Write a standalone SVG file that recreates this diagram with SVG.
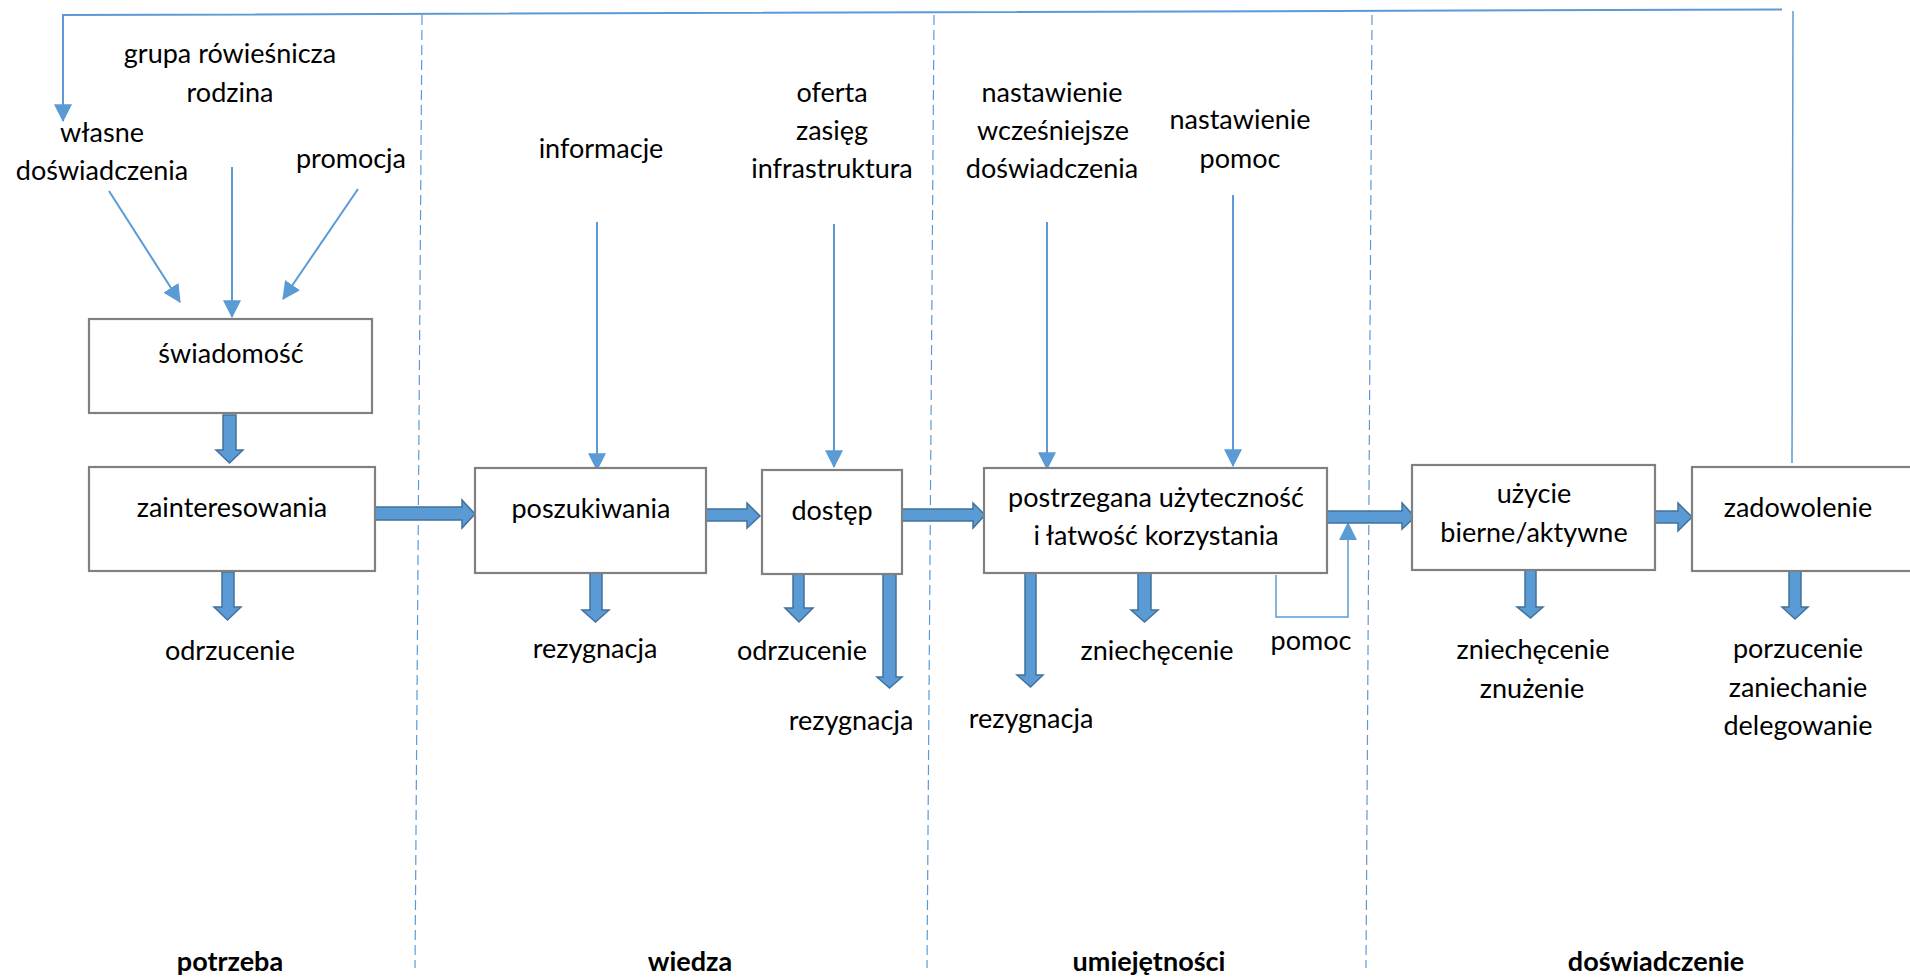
<svg xmlns="http://www.w3.org/2000/svg" width="1910" height="977" viewBox="0 0 1910 977">
<style>
text{font-family:Lato,"Liberation Sans",sans-serif;font-size:27px;fill:#000;text-anchor:middle}
.b{font-weight:bold}
.box{fill:#fff;stroke:#808080;stroke-width:2.2}
.blk{fill:#5B9BD5;stroke:#41719C;stroke-width:1.5;stroke-linejoin:miter}
.thin{fill:none;stroke:#5B9BD5;stroke-width:2}
.fine{fill:none;stroke:#5B9BD5;stroke-width:1.5}
.dash{fill:none;stroke:#5B9BD5;stroke-width:1.2;stroke-dasharray:10 5}
</style>
<defs>
<marker id="ah" markerUnits="userSpaceOnUse" markerWidth="18" markerHeight="18" viewBox="0 0 16 16" refX="15" refY="8" orient="auto">
<path d="M0,0 L16,8 L0,16 Z" fill="#5B9BD5"/>
</marker>
</defs>
<rect width="1910" height="977" fill="#fff"/>
<g id="phases">
<line class="dash" x1="422" y1="15" x2="415" y2="968"/>
<line class="dash" x1="934" y1="15" x2="927" y2="968"/>
<line class="dash" x1="1372" y1="15" x2="1366" y2="968"/>
<text class="b" x="230" y="971">potrzeba</text>
<text class="b" x="690" y="971">wiedza</text>
<text class="b" x="1149" y="971">umiejętności</text>
<text class="b" x="1656" y="971">doświadczenie</text>
</g>
<g id="connectors">
<path class="thin" d="M1782,9.5 L63,15 L63,121" marker-end="url(#ah)"/>
<line class="fine" x1="1793" y1="11" x2="1792" y2="463"/>
<line class="thin" x1="109" y1="191" x2="180" y2="302" marker-end="url(#ah)"/>
<line class="thin" x1="232" y1="167" x2="232" y2="317" marker-end="url(#ah)"/>
<line class="thin" x1="358" y1="189" x2="283" y2="299" marker-end="url(#ah)"/>
<line class="thin" x1="597" y1="222" x2="597" y2="470" marker-end="url(#ah)"/>
<line class="thin" x1="834" y1="224" x2="834" y2="467" marker-end="url(#ah)"/>
<line class="thin" x1="1047" y1="222" x2="1047" y2="469" marker-end="url(#ah)"/>
<line class="thin" x1="1233" y1="195" x2="1233" y2="466" marker-end="url(#ah)"/>
<path class="fine" d="M1276,575 L1276,617 L1348,617 L1348,523" marker-end="url(#ah)"/>
<!-- block arrows down -->
<polygon class="blk" points="223,415 236,415 236,450 243,450 229.5,463 216,450 223,450"/>
<polygon class="blk" points="222,572 234,572 234,607 241,607 227.5,620 214,607 222,607"/>
<polygon class="blk" points="590,573 602,573 602,610 609,610 595.5,622 582,610 590,610"/>
<polygon class="blk" points="793,574 804,574 804,608 813,608 799,622 785,608 793,608"/>
<polygon class="blk" points="883,574 896,574 896,677 902,677 889.5,688 877,677 883,677"/>
<polygon class="blk" points="1025,573 1036,573 1036,675 1043,675 1030.5,687 1017,675 1025,675"/>
<polygon class="blk" points="1138,573 1151,573 1151,610 1158,610 1144.5,622 1131,610 1138,610"/>
<polygon class="blk" points="1525,570 1536,570 1536,607 1543,607 1530.5,618 1517,607 1525,607"/>
<polygon class="blk" points="1789,571 1801,571 1801,607 1808,607 1795,619 1782,607 1789,607"/>
<!-- block arrows right -->
<polygon class="blk" points="375,507 462,507 462,500 475,514 462,528 462,520 375,520"/>
<polygon class="blk" points="706,509 747,509 747,503 760,516 747,528 747,521 706,521"/>
<polygon class="blk" points="902,509 973,509 973,503 985,515 973,528 973,521 902,521"/>
<polygon class="blk" points="1327,511 1402,511 1402,503 1415,517 1402,529 1402,523 1327,523"/>
<polygon class="blk" points="1655,511 1678,511 1678,503 1692,517 1678,531 1678,523 1655,523"/>
</g>
<g id="inputs">
<text x="230" y="63">grupa rówieśnicza</text>
<text x="230" y="102">rodzina</text>
<text x="102" y="142">własne</text>
<text x="102" y="180">doświadczenia</text>
<text x="351" y="168">promocja</text>
<text x="601" y="158">informacje</text>
<text x="832" y="102">oferta</text>
<text x="832" y="140">zasięg</text>
<text x="832" y="178">infrastruktura</text>
<text x="1052" y="102">nastawienie</text>
<text x="1053" y="140">wcześniejsze</text>
<text x="1052" y="178">doświadczenia</text>
<text x="1240" y="129">nastawienie</text>
<text x="1240" y="168">pomoc</text>
</g>
<g id="node-swiadomosc">
<rect class="box" x="89" y="319" width="283" height="94"/>
<text x="231" y="363">świadomość</text>
</g>
<g id="node-zainteresowania">
<rect class="box" x="89" y="467" width="286" height="104"/>
<text x="232" y="517">zainteresowania</text>
</g>
<g id="node-poszukiwania">
<rect class="box" x="475" y="468" width="231" height="105"/>
<text x="591" y="518">poszukiwania</text>
</g>
<g id="node-dostep">
<rect class="box" x="762" y="470" width="140" height="104"/>
<text x="832" y="520">dostęp</text>
</g>
<g id="node-postrzegana">
<rect class="box" x="984" y="468" width="343" height="105"/>
<text x="1156" y="507">postrzegana użyteczność</text>
<text x="1156" y="545">i łatwość korzystania</text>
</g>
<g id="node-uzycie">
<rect class="box" x="1412" y="465" width="243" height="105"/>
<text x="1534" y="503">użycie</text>
<text x="1534" y="542">bierne/aktywne</text>
</g>
<g id="node-zadowolenie">
<rect class="box" x="1692" y="467" width="230" height="104"/>
<text x="1798" y="517">zadowolenie</text>
</g>
<g id="outcomes">
<text x="230" y="660">odrzucenie</text>
<text x="595" y="658">rezygnacja</text>
<text x="802" y="660">odrzucenie</text>
<text x="851" y="730">rezygnacja</text>
<text x="1157" y="660">zniechęcenie</text>
<text x="1031" y="728">rezygnacja</text>
<text x="1311" y="650">pomoc</text>
<text x="1533" y="659">zniechęcenie</text>
<text x="1532" y="698">znużenie</text>
<text x="1798" y="658">porzucenie</text>
<text x="1798" y="697">zaniechanie</text>
<text x="1798" y="735">delegowanie</text>
</g>
</svg>
